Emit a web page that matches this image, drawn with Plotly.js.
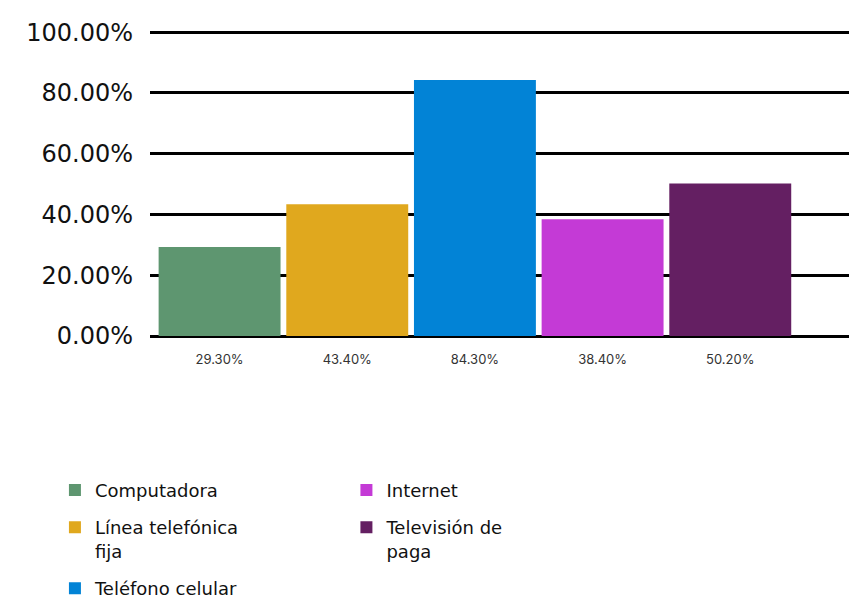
<!DOCTYPE html>
<html>
<head>
<meta charset="utf-8">
<script src="https://cdn.plot.ly/plotly-3.0.1.min.js"></script>
<style>html,body{margin:0;padding:0;background:#fff;}#chart{width:849px;height:610px;}</style>
</head>
<body>
<div id="chart"></div>
<script>
const categories = ["Computadora", "Línea telefónica<br>fija", "Teléfono celular", "Internet", "Televisión de<br>paga"];
const values = [29.3, 43.4, 84.3, 38.4, 50.2];
const tickLabels = ["29.30%", "43.40%", "84.30%", "38.40%", "50.20%"];
const colors = ["#5e9670", "#e0a81e", "#0283d6", "#c43ad6", "#641f62"];
const legendGroup = ["legend", "legend", "legend", "legend2", "legend2"];

const traces = categories.map((c, i) => ({
  type: "bar",
  x: [i],
  y: [values[i]],
  name: c,
  marker: {color: colors[i]},
  width: 0.955,
  legend: legendGroup[i],
  legendgroup: "g" + i,
  hoverinfo: "skip"
}));

const legendFont = {family: "'DejaVu Sans', 'Noto Sans', sans-serif", size: 18, color: "#111"};

const layout = {
  width: 849, height: 610,
  margin: {l: 150, r: 0, t: 31, b: 274},
  paper_bgcolor: "#fff", plot_bgcolor: "#fff",
  showlegend: true,
  barmode: "group",
  xaxis: {
    range: [-0.545, 4.93],
    tickmode: "array",
    tickvals: categories.map((c, i) => i),
    ticktext: tickLabels,
    showgrid: false, zeroline: false, showline: false,
    ticks: "", ticklabelstandoff: 14,
    tickfont: {family: "Inter, 'Noto Sans', sans-serif", size: 13, color: "#333"}
  },
  yaxis: {
    range: [0, 100.4],
    tick0: 0, dtick: 20,
    tickformat: ".2f", ticksuffix: "%",
    showgrid: true, gridcolor: "#000", gridwidth: 3,
    zeroline: true, zerolinecolor: "#000", zerolinewidth: 3,
    showline: false, ticks: "", ticklabelstandoff: 16,
    tickfont: {family: "'DejaVu Sans', sans-serif", size: 24, color: "#111"}
  },
  legend: {
    x: -0.136, y: -0.445, xanchor: "left", yanchor: "top",
    orientation: "v", valign: "top",
    font: legendFont, tracegroupgap: 11, itemclick: false
  },
  legend2: {
    x: 0.281, y: -0.445, xanchor: "left", yanchor: "top",
    orientation: "v", valign: "top",
    font: legendFont, tracegroupgap: 11, itemclick: false
  }
};

Plotly.newPlot("chart", traces, layout, {displayModeBar: false, staticPlot: true});
</script>
</body>
</html>
